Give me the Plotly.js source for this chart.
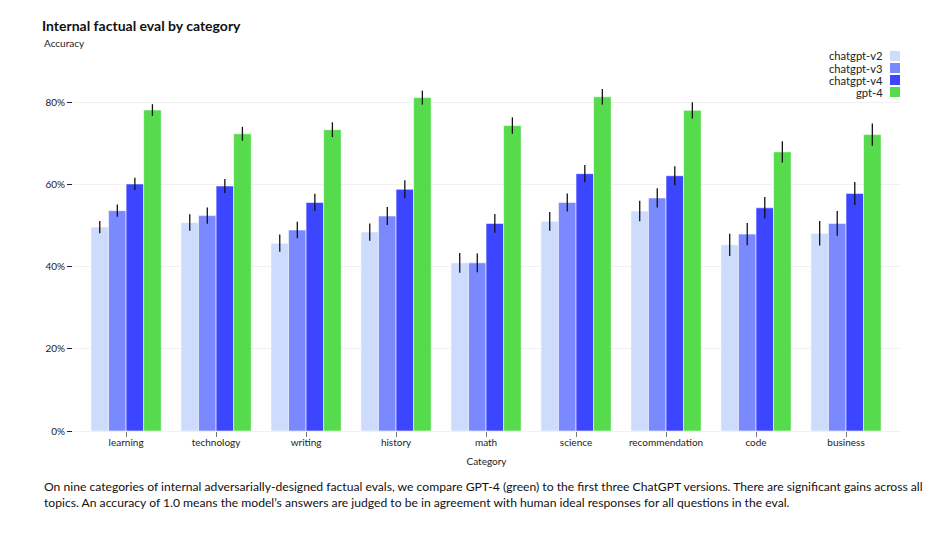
<!DOCTYPE html>
<html>
<head>
<meta charset="utf-8">
<script src="https://cdn.plot.ly/plotly-3.0.1.min.js"></script>
<style>html,body{margin:0;padding:0;background:#fff;}#chart{width:938px;height:538px;}</style>
</head>
<body>
<div id="chart"></div>
<script>
const categories = ["learning","technology","writing","history","math","science","recommendation","code","business"];
const seriesNames = ["chatgpt-v2","chatgpt-v3","chatgpt-v4","gpt-4"];
const chatgptV2 = [49.6, 50.7, 45.7, 48.4, 40.9, 51.0, 53.5, 45.3, 48.1];
const chatgptV3 = [53.6, 52.4, 48.9, 52.3, 40.9, 55.6, 56.7, 47.9, 50.5];
const chatgptV4 = [60.1, 59.6, 55.6, 58.8, 50.5, 62.6, 62.1, 54.3, 57.8];
const gpt4      = [78.1, 72.3, 73.3, 81.1, 74.3, 81.3, 78.0, 67.9, 72.1];
const errV2 = [1.5, 2.0, 2.1, 2.1, 2.4, 2.3, 2.5, 2.7, 3.0];
const errV3 = [1.5, 2.0, 2.0, 2.2, 2.3, 2.2, 2.35, 2.7, 3.0];
const errV4 = [1.5, 1.7, 2.1, 2.2, 2.3, 2.1, 2.3, 2.6, 2.8];
const errG4 = [1.4, 1.7, 1.8, 1.7, 2.0, 1.9, 2.0, 2.6, 2.7];
const yTickVals = [0, 0.2, 0.4, 0.6, 0.8];
const yTickText = ["0%", "20%", "40%", "60%", "80%"];
const titleText = "Internal factual eval by category";
const yLabel = "Accuracy";
const xLabel = "Category";
const caption = "On nine categories of internal adversarially-designed factual evals, we compare GPT-4 (green) to the first three ChatGPT versions. There are significant gains across all<br>topics. An accuracy of 1.0 means the model’s answers are judged to be in agreement with human ideal responses for all questions in the eval.";

const colors = ["#cddcfd", "#7b89ff", "#3d46ff", "#55db4b"];
const values = [chatgptV2, chatgptV3, chatgptV4, gpt4];
const errors = [errV2, errV3, errV4, errG4];
const FONT = "Lato, 'Noto Sans', sans-serif";

const traces = values.map((v, i) => ({
  type: "bar",
  name: seriesNames[i],
  x: categories,
  y: v.map(d => d / 100),
  error_y: {type: "data", array: errors[i].map(d => d / 100), visible: true, color: "#111", thickness: 1.3, width: 0},
  marker: {color: colors[i], line: {color: "rgba(255,255,255,0.55)", width: 1}},
  hoverinfo: "x+y+name"
}));

// plot geometry in pixels
const L = 73, R = 900, T = 82, B = 431;
const px = x => (x - L) / (R - L);
const py = y => (B - y) / (B - T);

const annotations = [
  {text: yLabel, xref: "paper", yref: "paper", x: px(42), y: py(43), xanchor: "left", yanchor: "middle", showarrow: false, font: {family: FONT, size: 10, color: "#222"}},
  {text: caption, xref: "paper", yref: "paper", x: px(42), y: py(494), xanchor: "left", yanchor: "middle", align: "left", showarrow: false, font: {family: FONT, size: 12.15, color: "#111"}}
];
const shapes = [];
const legendY = [56, 68, 80, 92];
seriesNames.forEach((n, i) => {
  annotations.push({text: n, xref: "paper", yref: "paper", x: px(885), y: py(legendY[i]), xanchor: "right", yanchor: "middle", showarrow: false, font: {family: FONT, size: 11.2, color: "#222"}});
  shapes.push({type: "rect", xref: "paper", yref: "paper", x0: px(890), x1: px(900), y0: py(legendY[i] - 5), y1: py(legendY[i] + 5), fillcolor: colors[i], line: {width: 0}});
});

const layout = {
  width: 938, height: 538,
  margin: {l: L, r: 938 - R, t: T, b: 538 - B},
  paper_bgcolor: "#fff", plot_bgcolor: "#fff",
  font: {family: FONT, size: 10, color: "#222"},
  title: {text: "<b>" + titleText + "</b>", xref: "container", yref: "container", x: 42 / 938, xanchor: "left", y: 1 - 26 / 538, yanchor: "middle", font: {family: FONT, size: 14, color: "#111"}},
  barmode: "group", bargap: 0.22, bargroupgap: 0,
  showlegend: false,
  xaxis: {
    type: "category", range: [-0.59, 8.6],
    ticks: "outside", ticklen: 5, tickcolor: "#777", tickwidth: 1,
    ticklabelstandoff: -3,
    showgrid: false, zeroline: false, showline: false,
    tickfont: {family: FONT, size: 10, color: "#222"},
    title: {text: xLabel, standoff: 10, font: {family: FONT, size: 10, color: "#222"}}
  },
  yaxis: {
    range: [0, 0.849],
    tickvals: yTickVals, ticktext: yTickText,
    ticks: "outside", ticklen: 5, tickcolor: "#222", tickwidth: 1,
    showgrid: true, gridcolor: "#f1f1f1", zeroline: true, zerolinecolor: "#f1f1f1",
    showline: false,
    tickfont: {family: FONT, size: 10, color: "#222"}
  },
  annotations: annotations,
  shapes: shapes
};

Plotly.newPlot("chart", traces, layout, {displayModeBar: false, staticPlot: true});
</script>
</body>
</html>
